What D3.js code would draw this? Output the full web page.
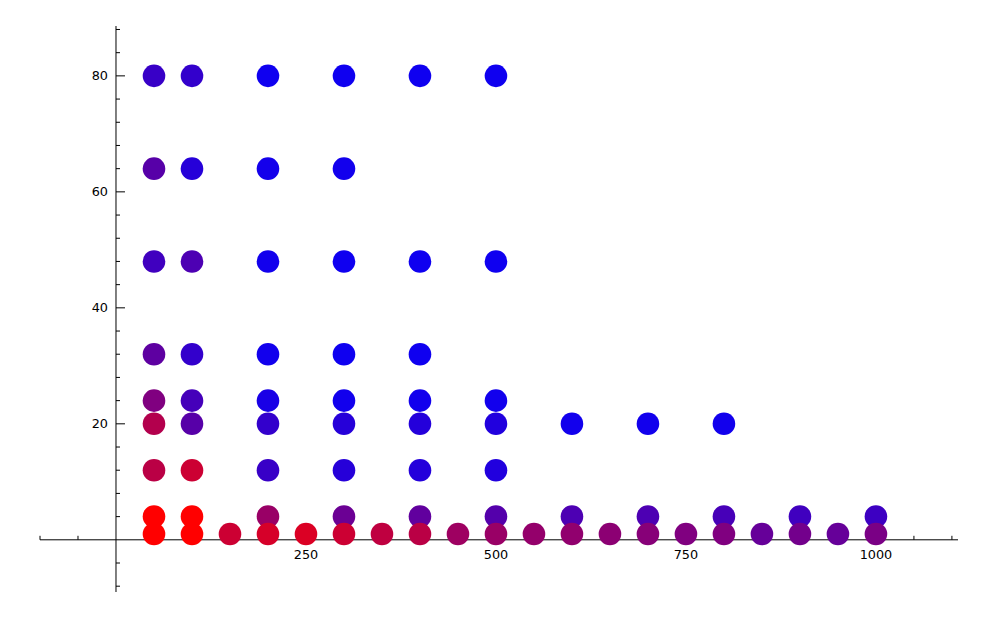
<!DOCTYPE html>
<html>
<head>
<meta charset="utf-8">
<script src="https://cdn.jsdelivr.net/npm/d3@7"></script>
<style>
  html, body { margin: 0; padding: 0; background: #fff; }
  svg { display: block; }
  text { font-family: "DejaVu Sans", sans-serif; font-size: 12.8px; fill: #000; }
</style>
</head>
<body>
<svg id="chart" width="1000" height="618"></svg>
<script>
// ---- data ----
// y levels (drawn from highest to lowest so lower rows sit on top)
const yLevels = [80, 64, 48, 32, 24, 20, 12, 4, 1];
// x positions per y level
const xs80 = [50, 100, 200, 300, 400, 500];
const xs64 = [50, 100, 200, 300];
const xs48 = [50, 100, 200, 300, 400, 500];
const xs32 = [50, 100, 200, 300, 400];
const xs24 = [50, 100, 200, 300, 400, 500];
const xs20 = [50, 100, 200, 300, 400, 500, 600, 700, 800];
const xs12 = [50, 100, 200, 300, 400, 500];
const xs4  = [50, 100, 200, 300, 400, 500, 600, 700, 800, 900, 1000];
const xs1  = [50, 100, 150, 200, 250, 300, 350, 400, 450, 500, 550, 600, 650, 700, 750, 800, 850, 900, 950, 1000];
// colour value per point (0 = red, 1 = blue)
const c80 = [0.78, 0.80, 0.94, 0.94, 0.94, 0.94];
const c64 = [0.66, 0.85, 0.92, 0.93];
const c48 = [0.75, 0.70, 0.93, 0.94, 0.94, 0.94];
const c32 = [0.63, 0.80, 0.93, 0.94, 0.94];
const c24 = [0.50, 0.73, 0.90, 0.93, 0.93, 0.93];
const c20 = [0.30, 0.66, 0.80, 0.85, 0.86, 0.87, 0.93, 0.93, 0.93];
const c12 = [0.27, 0.20, 0.78, 0.85, 0.86, 0.87];
const c4  = [0.00, 0.00, 0.40, 0.58, 0.62, 0.67, 0.70, 0.70, 0.72, 0.75, 0.76];
const c1  = [0.00, 0.00, 0.20, 0.16, 0.14, 0.20, 0.25, 0.27, 0.38, 0.40, 0.42, 0.43, 0.45, 0.47, 0.50, 0.50, 0.60, 0.55, 0.60, 0.52];

const xRows = [xs80, xs64, xs48, xs32, xs24, xs20, xs12, xs4, xs1];
const cRows = [c80, c64, c48, c32, c24, c20, c12, c4, c1];

const xMajorTicks = [250, 500, 750, 1000];
const yMajorTicks = [20, 40, 60, 80];

// ---- chart ----
const svg = d3.select("#chart");
const x = d3.scaleLinear().domain([-100, 1108]).range([40, 958]);
const y = d3.scaleLinear().domain([-9, 88.6]).range([592, 26]);
const color = t => d3.rgb(Math.round(255 * (1 - t)), 0, Math.round(255 * t)).toString();

const points = [];
yLevels.forEach((yv, i) => {
  xRows[i].forEach((xv, j) => points.push({ x: xv, y: yv, c: cRows[i][j] }));
});

// axes
const x0 = x(0), y0 = y(0);
const axes = svg.append("g").attr("stroke", "#000").attr("stroke-width", 1);
axes.append("line").attr("x1", 40).attr("x2", 958).attr("y1", y0).attr("y2", y0);
axes.append("line").attr("x1", x0).attr("x2", x0).attr("y1", 26).attr("y2", 592);

const xMinor = d3.range(-100, 1101, 50).filter(v => v !== 0 && !xMajorTicks.includes(v));
const yMinor = d3.range(-8, 89, 4).filter(v => v !== 0 && !yMajorTicks.includes(v));

axes.selectAll(".xmaj").data(xMajorTicks).join("line")
  .attr("x1", d => x(d)).attr("x2", d => x(d)).attr("y1", y0).attr("y2", y0 - 9);
axes.selectAll(".xmin").data(xMinor).join("line")
  .attr("x1", d => x(d)).attr("x2", d => x(d)).attr("y1", y0).attr("y2", y0 - 4);
axes.selectAll(".ymaj").data(yMajorTicks).join("line")
  .attr("x1", x0).attr("x2", x0 + 9).attr("y1", d => y(d)).attr("y2", d => y(d));
axes.selectAll(".ymin").data(yMinor).join("line")
  .attr("x1", x0).attr("x2", x0 + 4).attr("y1", d => y(d)).attr("y2", d => y(d));

// points
svg.append("g").selectAll("circle").data(points).join("circle")
  .attr("cx", d => x(d.x)).attr("cy", d => y(d.y)).attr("r", 11.3)
  .attr("fill", d => color(d.c));

// tick labels
svg.append("g").selectAll("text").data(xMajorTicks).join("text")
  .attr("x", d => x(d)).attr("y", y0 + 19).attr("text-anchor", "middle").text(d => d);
svg.append("g").selectAll("text").data(yMajorTicks).join("text")
  .attr("x", x0 - 8).attr("y", d => y(d)).attr("dy", "0.36em").attr("text-anchor", "end").text(d => d);
</script>
</body>
</html>
